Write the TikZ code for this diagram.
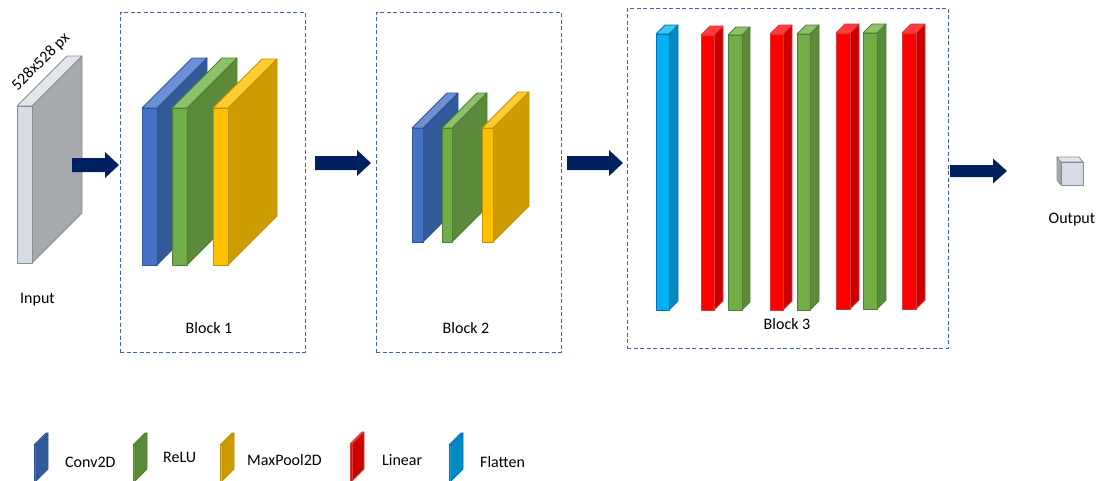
\documentclass[tikz,border=0pt]{standalone}
\usepackage{fontspec}
\setmainfont{Carlito}
\definecolor{inF}{HTML}{D6DCE5}\definecolor{inS}{HTML}{A6A9AE}\definecolor{inT}{HTML}{E2E6EC}\definecolor{inE}{HTML}{8C8C8C}
\definecolor{cvF}{HTML}{4472C4}\definecolor{cvS}{HTML}{335A98}\definecolor{cvT}{HTML}{6A8FD3}\definecolor{cvE}{HTML}{2F5597}
\definecolor{reF}{HTML}{70AD47}\definecolor{reS}{HTML}{5A8A3A}\definecolor{reT}{HTML}{8FC06A}\definecolor{reE}{HTML}{507E32}
\definecolor{mpF}{HTML}{FFC000}\definecolor{mpS}{HTML}{CC9C00}\definecolor{mpT}{HTML}{FFCB2E}\definecolor{mpE}{HTML}{BF9000}
\definecolor{liF}{HTML}{FF0000}\definecolor{liS}{HTML}{CC0000}\definecolor{liT}{HTML}{FF3B3B}\definecolor{liE}{HTML}{D83A3A}
\definecolor{flF}{HTML}{00B0F0}\definecolor{flS}{HTML}{008CC0}\definecolor{flT}{HTML}{3CC3F5}\definecolor{flE}{HTML}{0070C0}
\definecolor{arrowc}{HTML}{002060}
\definecolor{boxc}{HTML}{3C64AA}
\newcommand{\slab}[6]{% prefix, x, ytop, w, h, depth
  \filldraw[fill=#1S,draw=#1E,line width=0.8pt,line join=round] (#2+#4,#3) -- ++(#6,-#6) -- ++(0,#5) -- ++(-#6,#6) -- cycle;
  \filldraw[fill=#1T,draw=#1E,line width=0.8pt,line join=round] (#2,#3) -- ++(#6,-#6) -- ++(#4,0) -- ++(-#6,#6) -- cycle;
  \filldraw[fill=#1F,draw=#1E,line width=0.8pt,line join=round] (#2,#3) rectangle ++(#4,#5);
}
\newcommand{\fatarrow}[6]{% x1, xhead, xtip, y, body half, head half
  \fill[arrowc] (#1,#4-#5) -- (#2,#4-#5) -- (#2,#4-#6) -- (#3,#4) -- (#2,#4+#6) -- (#2,#4+#5) -- (#1,#4+#5) -- cycle;
}
\tikzset{
  blockbox/.style={draw=boxc,line width=1pt,dash pattern=on 4pt off 2.5pt,inner sep=0pt},
  lbl/.style={inner sep=0pt,font=\fontsize{16}{19}\selectfont}
}
\begin{document}
\begin{tikzpicture}[x=1pt,y=-1pt]
\useasboundingbox (0,0) rectangle (1101,480);
% blocks
\node[blockbox,minimum width=185pt,minimum height=340pt] (b1) at (212.5,182) {};
\node[blockbox,minimum width=185pt,minimum height=340pt] (b2) at (468.5,182) {};
\node[blockbox,minimum width=321pt,minimum height=340pt] (b3) at (787.5,178) {};
% input
\slab{in}{17}{106}{15}{157}{50}
\node[lbl,rotate=45] (size) at (41,62) {528x528 px};
\node[lbl,anchor=base] (inl) at (37.5,303) {Input};
% block 1
\slab{cv}{142}{108}{15}{157}{50}
\slab{re}{172}{108}{15}{157}{50}
\slab{mp}{213}{108}{15}{157}{49}
\node[lbl,anchor=base] (b1l) at (209,333) {Block 1};
% block 2
\slab{cv}{412}{128}{11}{114}{35}
\slab{re}{442}{128}{10}{114}{35}
\slab{mp}{482}{128}{11}{114}{36}
\node[lbl,anchor=base] (b2l) at (466,333) {Block 2};
% block 3
\slab{fl}{656}{34}{13}{276}{9}
\slab{li}{701}{35}{13}{275}{9}
\slab{re}{728}{35}{14}{275}{8}
\slab{li}{770}{34}{13}{276}{9}
\slab{re}{797}{34}{13}{276}{9}
\slab{li}{836}{33}{14}{276}{9}
\slab{re}{863}{33}{14}{276}{9}
\slab{li}{902}{33}{14}{276}{9}
\node[lbl,anchor=base] (b3l) at (787,329) {Block 3};
% output
\filldraw[fill=inS,draw=inE,line width=0.8pt,line join=round] (1061,162) -- (1057,157) -- (1057,180) -- (1061,185) -- cycle;
\filldraw[fill=inT,draw=inE,line width=0.8pt,line join=round] (1061,162) -- (1057,157) -- (1079,157) -- (1083,162) -- cycle;
\filldraw[fill=inF,draw=inE,line width=0.8pt] (1061,162) rectangle (1083,185);
\node[lbl,anchor=base] (outl) at (1072,223) {Output};
% arrows
\fatarrow{72}{105}{119}{165}{7}{13}
\fatarrow{315}{357}{371}{163}{7}{13}
\fatarrow{567}{609}{623}{163}{7}{13}
\fatarrow{950}{993}{1007}{171}{6}{12.5}
% legend
\slab{cv}{34}{445}{2}{36}{12}
\node[lbl,anchor=base west] (lg1) at (65,467) {Conv2D};
\slab{re}{133}{445}{2}{36}{12}
\node[lbl,anchor=base west] (lg2) at (163,462) {ReLU};
\slab{mp}{220}{445}{2}{36}{12}
\node[lbl,anchor=base west] (lg3) at (247,465) {MaxPool2D};
\slab{li}{350}{444}{2}{37}{12}
\node[lbl,anchor=base west] (lg4) at (382,465) {Linear};
\slab{fl}{449}{445}{2}{36}{12}
\node[lbl,anchor=base west] (lg5) at (480,467) {Flatten};
\end{tikzpicture}
\end{document}
